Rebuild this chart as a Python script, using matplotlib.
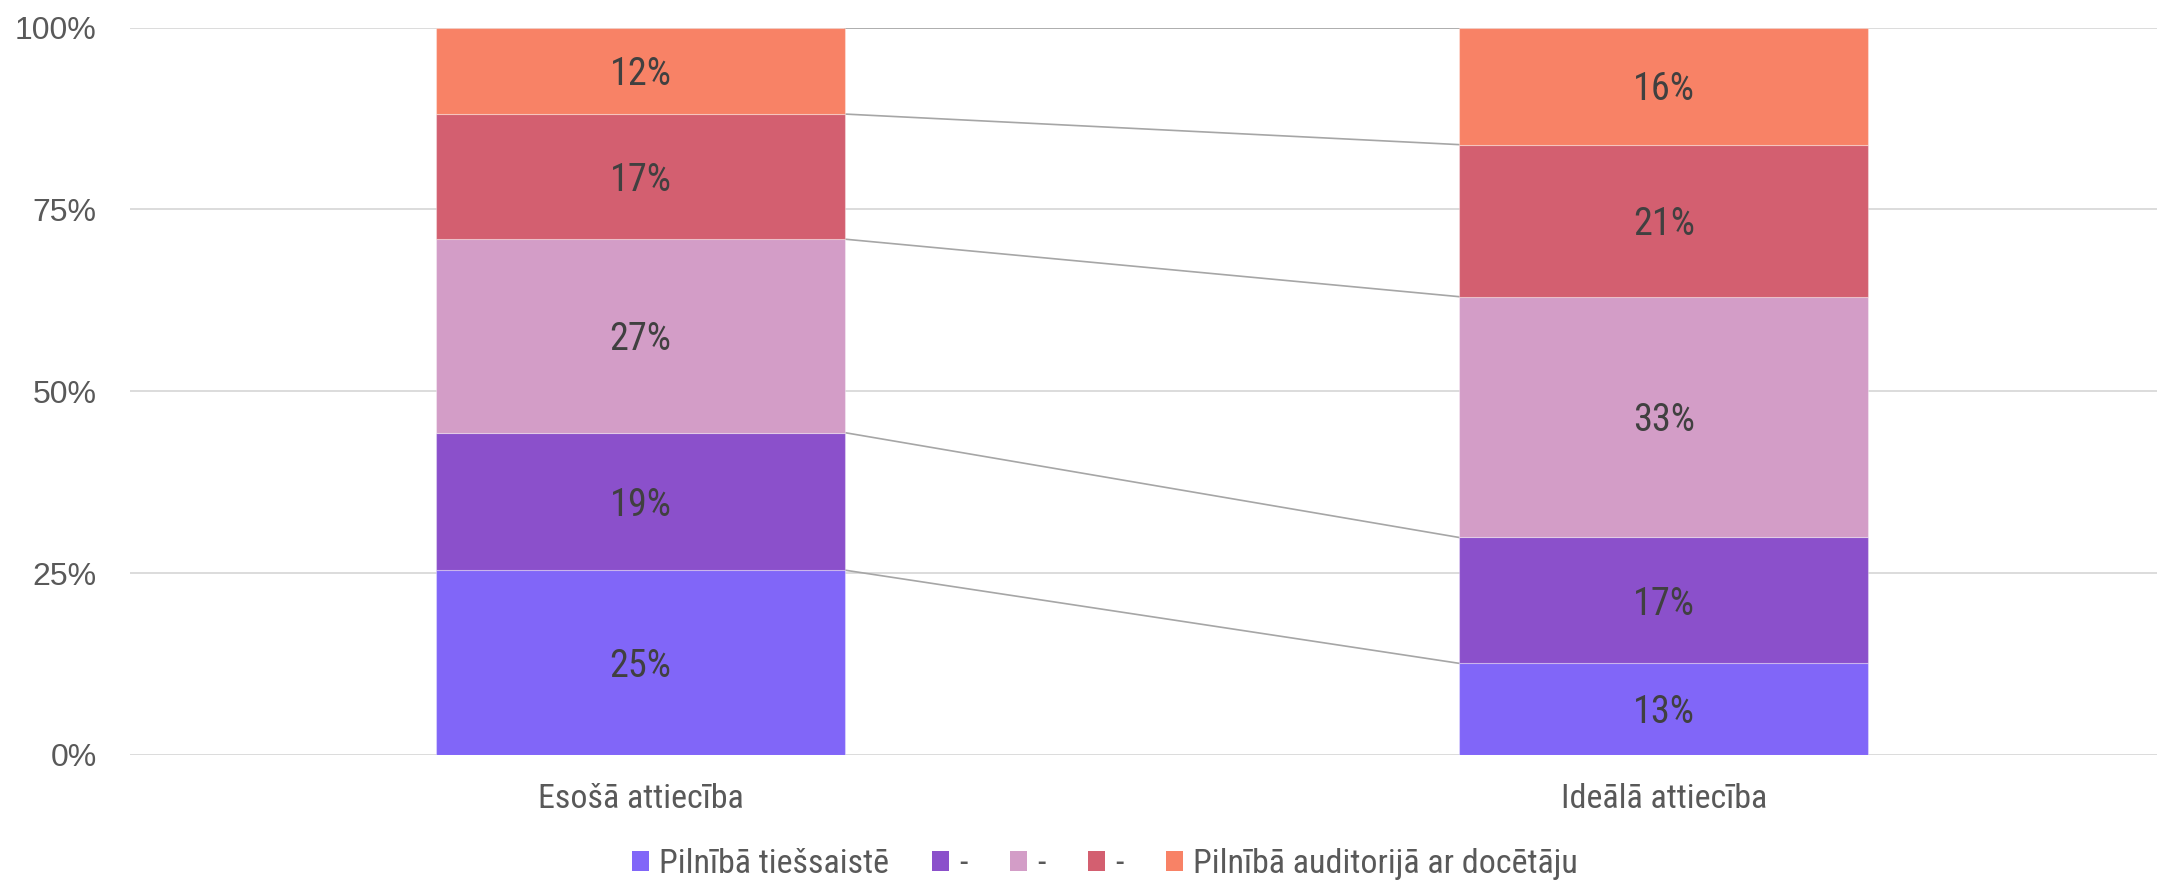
import numpy as np
import matplotlib
matplotlib.use("Agg")
from matplotlib import pyplot as plt
from matplotlib.patches import Patch

# dati
categories = ["Esošā attiecība", "Ideālā attiecība"]
series_names = ["Pilnībā tiešsaistē", "-", "-", "-", "Pilnībā auditorijā ar docētāju"]
values = [
    [25.4, 12.6],   # Pilnībā tiešsaistē
    [18.9, 17.3],   # -
    [26.6, 33.1],   # -
    [17.2, 20.9],   # -
    [11.9, 16.1],   # Pilnībā auditorijā ar docētāju
]
yticks = [0, 25, 50, 75, 100]
colors = ["#8166F8", "#8B50CB", "#D39DC7", "#D35F70", "#F88266"]

plt.rcParams['font.family'] = ["Roboto Condensed", "DejaVu Sans"]

fig = plt.figure(figsize=(21.57, 8.81), dpi=100)
ax = fig.add_axes([130 / 2157, 126 / 881, 1 - 130 / 2157, (755 - 27.5) / 881])

x = np.arange(len(categories))
width = 0.4
bottom = np.zeros(len(categories))
for name, vals, col in zip(series_names, values, colors):
    vals = np.array(vals)
    ax.bar(x, vals, width, bottom=bottom, color=col, edgecolor=(1, 1, 1, 0.35),
           linewidth=0.8, zorder=3, label=name)
    for xi, b, v in zip(x, bottom, vals):
        ax.text(xi, b + v / 2 - 0.5, f"{v:.0f}%", ha="center", va="center",
                fontsize=27.5, color="#404040", zorder=4)
    bottom = bottom + vals

# savienojošās līnijas starp stabiņiem
cum = np.cumsum(np.array(values), axis=0)
for row in cum:
    ax.plot([x[0] + width / 2, x[1] - width / 2], [row[0], row[1]],
            color="#A6A6A6", lw=1.2, zorder=2)

ax.set_xlim(-0.499, 1.482)
ax.set_ylim(0, 100)
ax.set_yticks(yticks)
ax.set_yticklabels([f"{t}%" for t in yticks], family=["Liberation Sans", "DejaVu Sans"])
ax.set_xticks(x)
ax.set_xticklabels(categories)
ax.tick_params(axis="y", length=0, pad=24, labelsize=23, labelcolor="#595959")
ax.tick_params(axis="x", length=0, pad=20, labelsize=24.5, labelcolor="#595959")
ax.yaxis.grid(True, color="#D9D9D9", lw=1.3, zorder=0)
ax.set_axisbelow(True)
for s in ax.spines.values():
    s.set_visible(False)

handles = [Patch(facecolor=c, edgecolor="none") for c in colors]
fig.legend(handles, series_names, loc="center", bbox_to_anchor=(1105 / 2157, 1 - 864 / 881),
           ncol=5, frameon=False, fontsize=24.5, labelcolor="#595959",
           handlelength=0.5, handleheight=0.5, handletextpad=0.3, columnspacing=1.25)

fig.savefig("out.png", dpi=100)
